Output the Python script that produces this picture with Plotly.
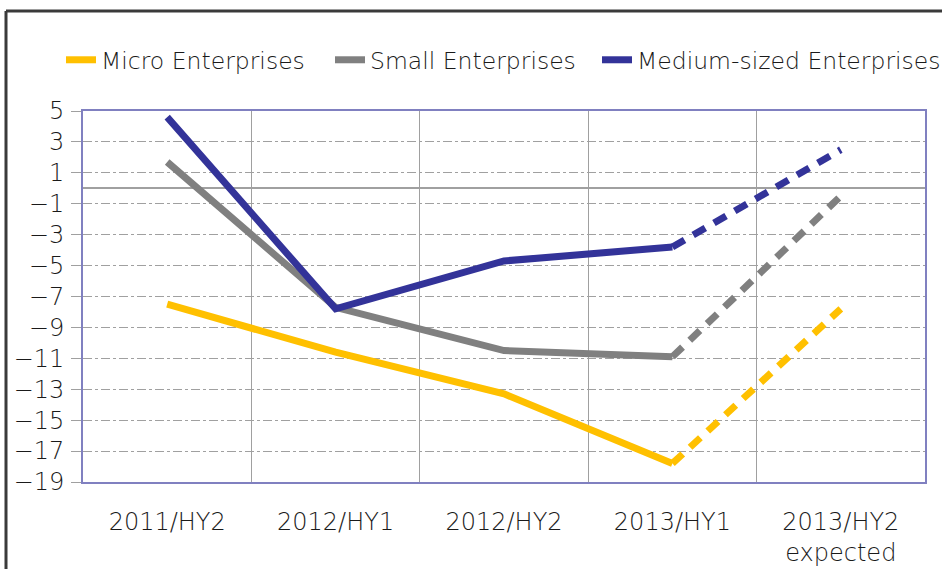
import plotly.graph_objects as go

# Half-year periods and net balance (%) by enterprise size
periods = ["2011/HY2", "2012/HY1", "2012/HY2", "2013/HY1", "2013/HY2<br>expected"]
micro = [-7.5, -10.6, -13.3, -17.8, -7.8]
small = [1.7, -7.7, -10.5, -10.9, -0.5]
medium = [4.6, -7.8, -4.7, -3.8, 2.5]

series = [
    ("Micro Enterprises", micro, "#FFC000"),
    ("Small Enterprises", small, "#808080"),
    ("Medium-sized Enterprises", medium, "#333399"),
]

FONT = dict(family="DejaVu Sans", size=24, color="#1a1a1a", weight=200)
LEGEND_FONT = dict(FONT, size=23.5)
W, H = 942, 569
L, R, T, B = 83, 17, 111, 87

pw = W - L - R
ph = H - T - B
fx = lambda px: (px - L) / pw
fy = lambda py: (H - B - py) / ph

# each series gets its own legend box, laid out left to right
legend_ids = ["legend", "legend2", "legend3"]
legend_left = [61, 330, 597]

fig = go.Figure()
for (name, vals, color), lid in zip(series, legend_ids):
    # observed periods: solid line
    fig.add_trace(go.Scatter(
        x=periods[:4], y=vals[:4], mode="lines", name=name,
        line=dict(color=color, width=7), legendgroup=name, legend=lid,
    ))
    # expected period: dashed continuation
    fig.add_trace(go.Scatter(
        x=periods[3:], y=vals[3:], mode="lines", name=name,
        line=dict(color=color, width=7, dash="14px,10px"),
        legendgroup=name, legend=lid, showlegend=False,
    ))

# outer frame (top and left edges)
fig.add_shape(type="line", xref="paper", yref="paper",
              x0=fx(6), x1=fx(W + 5), y0=fy(11), y1=fy(11),
              line=dict(color="#3a3a3a", width=3))
fig.add_shape(type="line", xref="paper", yref="paper",
              x0=fx(6), x1=fx(6), y0=fy(11), y1=fy(H + 5),
              line=dict(color="#3a3a3a", width=3))

legend_style = dict(
    orientation="h", xanchor="left", y=fy(60), yanchor="middle",
    font=LEGEND_FONT, bgcolor="rgba(0,0,0,0)", itemwidth=30,
)

fig.update_layout(
    width=W, height=H,
    margin=dict(l=L, r=R, t=T, b=B, autoexpand=False),
    paper_bgcolor="white", plot_bgcolor="white",
    font=FONT,
    showlegend=True,
    **{lid: dict(x=fx(px), **legend_style) for lid, px in zip(legend_ids, legend_left)},
    xaxis=dict(
        type="category", tickson="boundaries", ticks="",
        showgrid=True, gridcolor="#a0a0a0", gridwidth=1,
        showline=True, linecolor="#8080c0", linewidth=2, mirror=True,
        tickfont=FONT, ticklabelstandoff=17, automargin=False,
        range=[-0.5, 4.5],
    ),
    yaxis=dict(
        range=[-19, 5], tickvals=list(range(-19, 6, 2)),
        showgrid=True, gridcolor="#a0a0a0", gridwidth=1, griddash="dashdot",
        zeroline=True, zerolinecolor="#a0a0a0", zerolinewidth=1.5,
        showline=True, linecolor="#8080c0", linewidth=2, mirror=True,
        ticks="outside", ticklen=10, tickcolor="#a0a0a0",
        tickfont=FONT, ticklabelstandoff=2, automargin=False,
    ),
)

fig.write_html("out.html")
